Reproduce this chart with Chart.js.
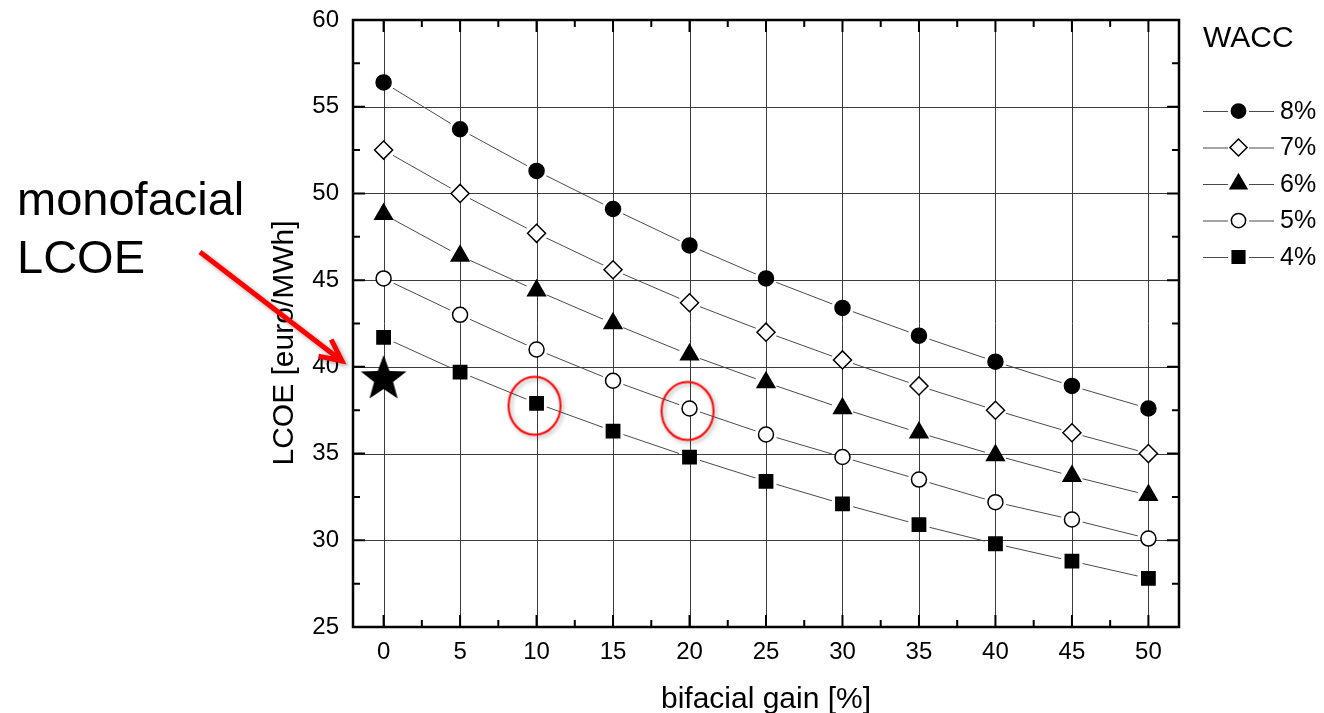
<!DOCTYPE html>
<html>
<head>
<meta charset="utf-8">
<script src="https://cdn.jsdelivr.net/npm/chart.js@4.4.1/dist/chart.umd.min.js"></script>
<style>
html, body { margin: 0; padding: 0; background: #fff; }
#wrap { position: relative; width: 1324px; height: 713px; }
</style>
</head>
<body>
<div id="wrap"><canvas id="lcoeChart" width="1324" height="713"></canvas></div>
<script>
// values
const bifacialGain = [0, 5, 10, 15, 20, 25, 30, 35, 40, 45, 50];
const waccLabels = ['8%', '7%', '6%', '5%', '4%'];
const lcoeWacc8 = [56.4, 53.7, 51.3, 49.1, 47.0, 45.1, 43.4, 41.8, 40.3, 38.9, 37.6];
const lcoeWacc7 = [52.5, 50.0, 47.7, 45.6, 43.7, 42.0, 40.4, 38.9, 37.5, 36.2, 35.0];
const lcoeWacc6 = [48.8, 46.4, 44.4, 42.5, 40.7, 39.1, 37.6, 36.2, 34.9, 33.7, 32.6];
const lcoeWacc5 = [45.1, 43.0, 41.0, 39.2, 37.6, 36.1, 34.8, 33.5, 32.2, 31.2, 30.1];
const lcoeWacc4 = [41.7, 39.7, 37.9, 36.3, 34.8, 33.4, 32.1, 30.9, 29.8, 28.8, 27.8];
const monofacialGain = [0];
const monofacialLcoe = [39.3];
const circledGain = [10, 20];
const circledLcoe = [37.9, 37.6];
const xTickValues = [0, 5, 10, 15, 20, 25, 30, 35, 40, 45, 50];
const yTickValues = [25, 30, 35, 40, 45, 50, 55, 60];

const seriesValues = [lcoeWacc8, lcoeWacc7, lcoeWacc6, lcoeWacc5, lcoeWacc4];
const markerStyles = [
    {pointStyle: 'circle', radius: 7.5, fill: '#000'},
    {pointStyle: 'rectRot', radius: 9, fill: '#fff'},
    {pointStyle: 'triangle', radius: 10.2, fill: '#000'},
    {pointStyle: 'circle', radius: 7.5, fill: '#fff'},
    {pointStyle: 'rect', radius: 9.4, fill: '#000'}
];

const FONT = 'Arial, "Liberation Sans", sans-serif';

function toPoints(xs, ys) {
    return xs.map((x, i) => ({x: x, y: ys[i]}));
}

function makeStarImage() {
    const c = document.createElement('canvas');
    c.width = 52; c.height = 52;
    const g = c.getContext('2d');
    g.beginPath();
    for (let i = 0; i < 10; i++) {
        const r = i % 2 === 0 ? 24 : 10;
        const a = -Math.PI / 2 + i * Math.PI / 5;
        g.lineTo(26 + r * Math.cos(a), 26 + r * Math.sin(a));
    }
    g.closePath();
    g.fillStyle = '#000';
    g.fill();
    return c;
}

function makeRingImage() {
    const c = document.createElement('canvas');
    c.width = 76; c.height = 82;
    const g = c.getContext('2d');
    g.shadowColor = 'rgba(0,0,0,0.35)';
    g.shadowBlur = 4;
    g.shadowOffsetX = 2;
    g.shadowOffsetY = 2;
    g.strokeStyle = '#f00';
    g.lineWidth = 2;
    g.beginPath();
    g.ellipse(36, 43.5, 26, 29, 0, 0, Math.PI * 2);
    g.stroke();
    return c;
}

const datasets = [];
seriesValues.forEach((vals, i) => {
    // connecting line, with white halos so the line stops short of the symbols
    datasets.push({
        kind: 'line',
        order: 2,
        data: toPoints(bifacialGain, vals),
        borderColor: '#4a4a4a',
        borderWidth: 1,
        pointRadius: 11,
        pointStyle: 'circle',
        pointBackgroundColor: '#fff',
        pointBorderWidth: 0,
        showLine: true
    });
    datasets.push({
        kind: 'marker',
        order: 1,
        label: waccLabels[i],
        data: toPoints(bifacialGain, vals),
        showLine: false,
        pointStyle: markerStyles[i].pointStyle,
        pointRadius: markerStyles[i].radius,
        pointBackgroundColor: markerStyles[i].fill,
        pointBorderColor: '#000',
        pointBorderWidth: 1.5
    });
});
datasets.push({
    kind: 'star',
    order: 0,
    data: toPoints(monofacialGain, monofacialLcoe),
    showLine: false,
    pointStyle: makeStarImage(),
    pointRadius: 10,
    clip: false
});
datasets.push({
    kind: 'ring',
    order: 0,
    data: toPoints(circledGain, circledLcoe),
    showLine: false,
    pointStyle: makeRingImage(),
    pointRadius: 10,
    clip: false
});

function drawGrid(chart) {
    const {ctx, chartArea: a, scales: {x, y}} = chart;
    ctx.save();
    ctx.strokeStyle = '#3c3c3c';
    ctx.lineWidth = 1;
    ctx.beginPath();
    x.ticks.forEach(t => {
        const px = Math.round(x.getPixelForValue(t.value)) + 0.5;
        ctx.moveTo(px, a.top);
        ctx.lineTo(px, a.bottom);
    });
    y.ticks.forEach(t => {
        const py = Math.round(y.getPixelForValue(t.value)) + 0.5;
        ctx.moveTo(a.left, py);
        ctx.lineTo(a.right, py);
    });
    ctx.stroke();
    ctx.restore();
}

function midpoints(values) {
    const out = [];
    for (let i = 0; i < values.length - 1; i++) {
        out.push((values[i] + values[i + 1]) / 2);
    }
    return out;
}

function drawFrame(chart) {
    const {ctx, chartArea: a, scales: {x, y}} = chart;
    ctx.save();
    ctx.strokeStyle = '#000';
    ctx.lineWidth = 2;
    ctx.beginPath();
    const xt = (v, len) => {
        const px = x.getPixelForValue(v);
        ctx.moveTo(px, a.bottom); ctx.lineTo(px, a.bottom - len);
        ctx.moveTo(px, a.top); ctx.lineTo(px, a.top + len);
    };
    const yt = (v, len) => {
        const py = y.getPixelForValue(v);
        ctx.moveTo(a.left, py); ctx.lineTo(a.left + len, py);
        ctx.moveTo(a.right, py); ctx.lineTo(a.right - len, py);
    };
    xTickValues.forEach(v => xt(v, 12));
    midpoints(xTickValues).forEach(v => xt(v, 7));
    yTickValues.forEach(v => yt(v, 12));
    midpoints(yTickValues).forEach(v => yt(v, 7));
    ctx.stroke();
    ctx.lineWidth = 2.5;
    ctx.strokeRect(a.left, a.top, a.right - a.left, a.bottom - a.top);
    ctx.restore();
}

function drawLegend(chart) {
    const ctx = chart.ctx;
    ctx.save();
    ctx.fillStyle = '#000';
    ctx.font = '30px ' + FONT;
    ctx.textBaseline = 'alphabetic';
    ctx.textAlign = 'left';
    ctx.fillText('WACC', 1203, 47);
    ctx.font = '25px ' + FONT;
    ctx.textBaseline = 'middle';
    waccLabels.forEach((label, i) => {
        const cy = 111 + i * 36.5;
        ctx.strokeStyle = '#4a4a4a';
        ctx.lineWidth = 1;
        ctx.beginPath();
        ctx.moveTo(1203, cy + 0.5); ctx.lineTo(1228, cy + 0.5);
        ctx.moveTo(1249, cy + 0.5); ctx.lineTo(1274, cy + 0.5);
        ctx.stroke();
        ctx.fillStyle = markerStyles[i].fill;
        ctx.strokeStyle = '#000';
        ctx.lineWidth = 1.5;
        Chart.helpers.drawPoint(ctx, {
            pointStyle: markerStyles[i].pointStyle,
            radius: markerStyles[i].radius * 0.95,
            rotation: 0,
            borderWidth: 1.5
        }, 1238.5, cy);
        ctx.fillStyle = '#000';
        ctx.fillText(label, 1280, cy + 1);
    });
    ctx.restore();
}

function drawNotes(chart) {
    const ctx = chart.ctx;
    ctx.save();
    ctx.fillStyle = '#000';
    ctx.textAlign = 'left';
    ctx.textBaseline = 'alphabetic';
    ctx.font = '47px ' + FONT;
    ctx.fillText('monofacial', 17, 215);
    ctx.fillText('LCOE', 17, 273);

    // axis titles
    ctx.font = '30px ' + FONT;
    ctx.textAlign = 'center';
    ctx.fillText('bifacial gain [%]', 766, 708);
    ctx.save();
    ctx.translate(293, 343);
    ctx.rotate(-Math.PI / 2);
    ctx.fillText('LCOE [euro/MWh]', 0, 0);
    ctx.restore();

    // red arrow to the monofacial value
    const tip = [342, 361];
    const tail = [200, 252];
    const ang = Math.atan2(tail[1] - tip[1], tail[0] - tip[0]);
    ctx.shadowColor = 'rgba(0,0,0,0.35)';
    ctx.shadowBlur = 4;
    ctx.shadowOffsetX = 2;
    ctx.shadowOffsetY = 2;
    ctx.strokeStyle = '#f00';
    ctx.lineWidth = 5;
    ctx.lineJoin = 'miter';
    ctx.beginPath();
    ctx.moveTo(tail[0], tail[1]);
    ctx.lineTo(tip[0] - 3 * Math.cos(ang + Math.PI), tip[1] - 3 * Math.sin(ang + Math.PI));
    ctx.moveTo(tip[0] + 24 * Math.cos(ang - 0.45), tip[1] + 24 * Math.sin(ang - 0.45));
    ctx.lineTo(tip[0], tip[1]);
    ctx.lineTo(tip[0] + 24 * Math.cos(ang + 0.45), tip[1] + 24 * Math.sin(ang + 0.45));
    ctx.stroke();
    ctx.restore();
}

const framePlugin = {
    id: 'originFrame',
    beforeDatasetsDraw(chart) {
        chart.$gridDone = false;
    },
    beforeDatasetDraw(chart, args) {
        const ds = chart.data.datasets[args.index];
        if (ds.kind !== 'line' && !chart.$gridDone) {
            drawGrid(chart);
            chart.$gridDone = true;
        }
    },
    afterDraw(chart) {
        drawFrame(chart);
        drawLegend(chart);
        drawNotes(chart);
    }
};

const tickFont = {family: FONT, size: 24};

new Chart(document.getElementById('lcoeChart'), {
    type: 'line',
    data: {datasets: datasets},
    plugins: [framePlugin],
    options: {
        responsive: false,
        animation: false,
        devicePixelRatio: 1,
        layout: {padding: {left: 0, right: 145, top: 20, bottom: 0}},
        plugins: {
            legend: {display: false},
            tooltip: {enabled: false}
        },
        scales: {
            x: {
                type: 'linear',
                min: -2,
                max: 52,
                afterBuildTicks: s => { s.ticks = xTickValues.map(v => ({value: v})); },
                afterFit: s => { s.height = 86; s.paddingLeft = 0; s.paddingRight = 0; },
                grid: {display: false, drawTicks: false},
                border: {display: false},
                ticks: {font: tickFont, color: '#000', padding: 11, maxRotation: 0}
            },
            y: {
                type: 'linear',
                min: 25,
                max: 60,
                afterBuildTicks: s => { s.ticks = yTickValues.map(v => ({value: v})); },
                afterFit: s => { s.width = 353; s.paddingTop = 0; s.paddingBottom = 0; },
                grid: {display: false, drawTicks: false},
                border: {display: false},
                ticks: {font: tickFont, color: '#000', padding: 14}
            }
        }
    }
});
</script>
</body>
</html>
